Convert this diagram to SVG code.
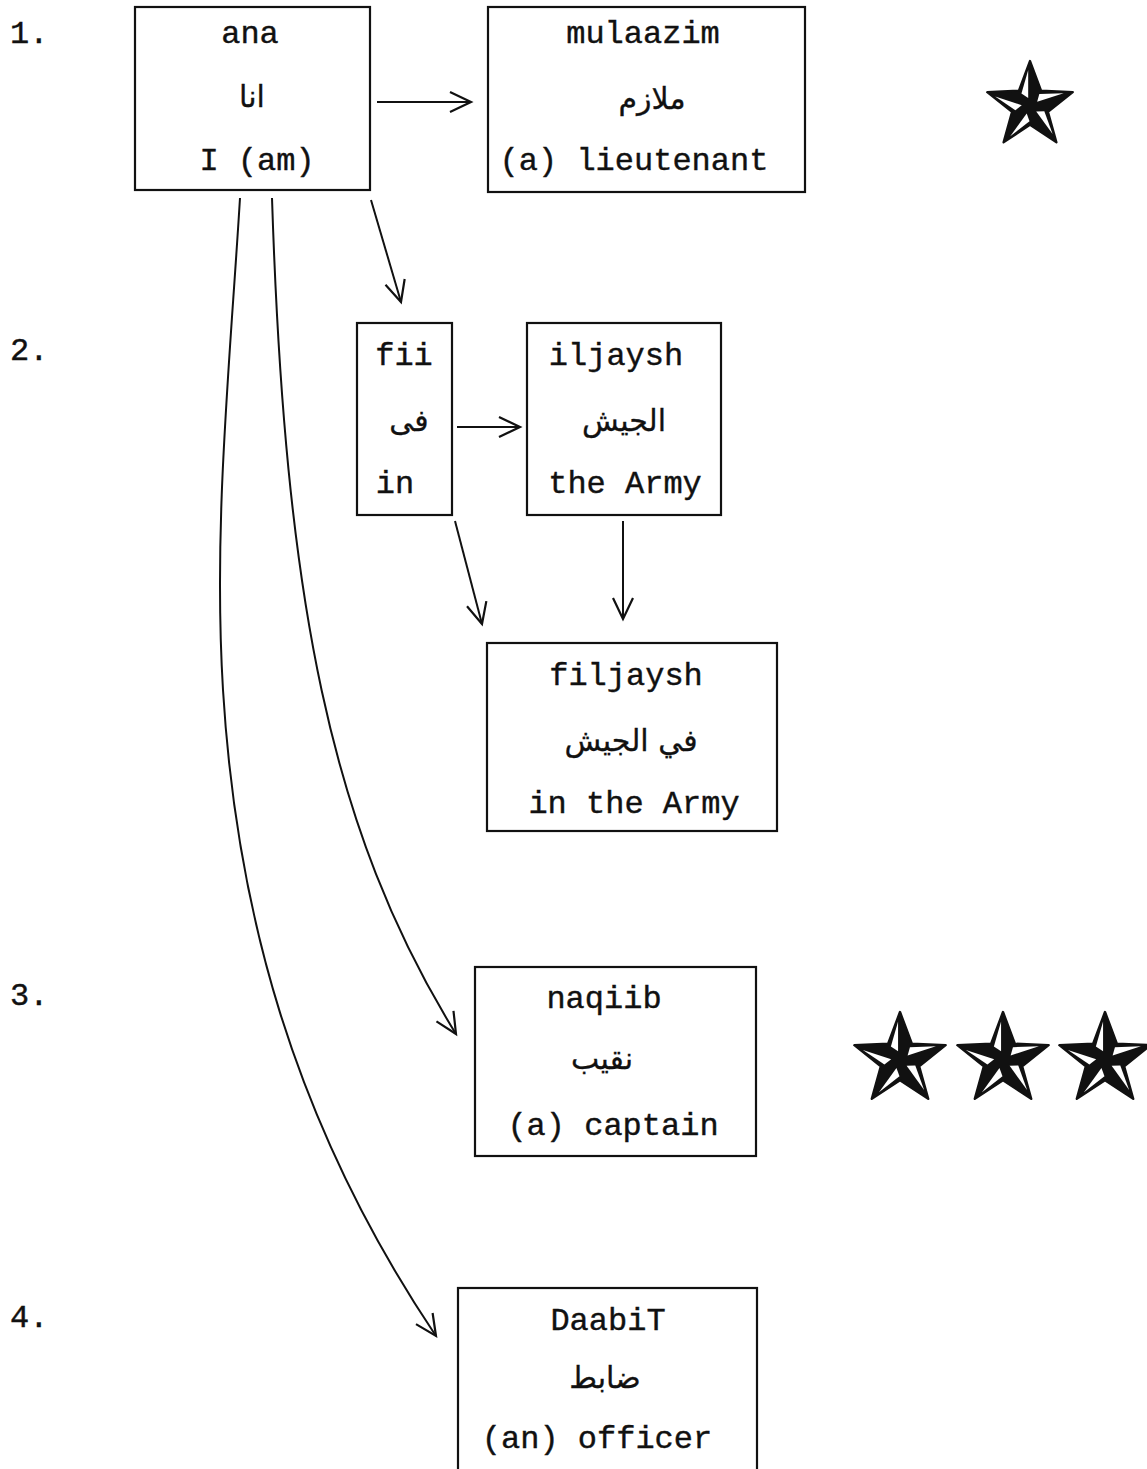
<svg xmlns="http://www.w3.org/2000/svg" xmlns:xlink="http://www.w3.org/1999/xlink" width="1147" height="1469" viewBox="0 0 1147 1469">
  <style>
    .box { fill: #fff; stroke: #111; stroke-width: 2.2; }
    .lat { font-family: "Liberation Mono", "Courier New", monospace; font-size: 32px; fill: #111; stroke: #111; stroke-width: 0.4; text-anchor: middle; }
    .num { font-family: "Liberation Mono", "Courier New", monospace; font-size: 32px; fill: #111; stroke: #111; stroke-width: 0.4; }
    .ar { font-family: "DejaVu Sans", "Noto Sans", sans-serif; font-size: 30px; fill: #111; stroke: #111; stroke-width: 0.3; text-anchor: middle; }
    .link { fill: none; stroke: #111; stroke-width: 2; marker-end: url(#head); }
  </style>
  <defs>
    <!-- open V arrowhead -->
    <marker id="head" markerUnits="userSpaceOnUse" markerWidth="28" markerHeight="26" refX="23" refY="13" orient="auto">
      <path d="M2,3 L23,13 L2,23" fill="none" stroke="#111" stroke-width="2.2" stroke-linejoin="miter"/>
    </marker>
    <!-- bevelled insignia star, radius 50, centred on origin -->
    <polygon id="facet" points="-2,-40 -2,-9 -9.5,-14" fill="#fff"/>
    <g id="star">
      <polygon points="0,-50 12.34,-16.99 47.55,-15.45 19.97,6.49 29.39,40.45 0,21 -29.39,40.45 -19.97,6.49 -47.55,-15.45 -12.34,-16.99" fill="#111" stroke="#111" stroke-width="2.5" stroke-linejoin="round"/>
      <use xlink:href="#facet"/>
      <use xlink:href="#facet" transform="rotate(72)"/>
      <use xlink:href="#facet" transform="rotate(144)"/>
      <use xlink:href="#facet" transform="rotate(216)"/>
      <use xlink:href="#facet" transform="rotate(288)"/>
    </g>
  </defs>

  <rect width="1147" height="1469" fill="#fff"/>

  <!-- row numbers -->
  <g id="row-numbers">
    <text class="num" x="10" y="43">1.</text>
    <text class="num" x="10" y="360">2.</text>
    <text class="num" x="10" y="1005">3.</text>
    <text class="num" x="10" y="1327">4.</text>
  </g>

  <!-- rank insignia -->
  <g id="stars-lieutenant">
    <use xlink:href="#star" transform="translate(1030,106) scale(0.9)"/>
  </g>
  <g id="stars-captain">
    <use xlink:href="#star" transform="translate(900,1060) scale(0.96)"/>
    <use xlink:href="#star" transform="translate(1003,1060) scale(0.96)"/>
    <use xlink:href="#star" transform="translate(1105,1060) scale(0.96)"/>
  </g>

  <g id="connectors">
    <path class="link" d="M377,102 L471,102"/>
    <path class="link" d="M371,200 L401,302"/>
    <path class="link" d="M457,427 L520,427"/>
    <path class="link" d="M455,521 L482,624"/>
    <path class="link" d="M623,521 L623,619"/>
    <path class="link" d="M272,198 C285,600 330,830 456,1034"/>
    <path class="link" d="M240,198 C230,362 213,526 223,690 C236,905 291,1120 436,1336"/>
  </g>

  <g id="node-ana">
    <rect class="box" x="135" y="7" width="235" height="183"/>
    <text class="lat" x="250" y="43">ana</text>
    <text class="ar" x="252" y="107">انا</text>
    <text class="lat" x="257" y="170">I (am)</text>
  </g>

  <g id="node-mulaazim">
    <rect class="box" x="488" y="7" width="317" height="185"/>
    <text class="lat" x="643" y="43">mulaazim</text>
    <text class="ar" x="652" y="109">ملازم</text>
    <text class="lat" x="634" y="170">(a) lieutenant</text>
  </g>

  <g id="node-fii">
    <rect class="box" x="357" y="323" width="95" height="192"/>
    <text class="lat" x="404" y="365">fii</text>
    <text class="ar" x="409" y="431">فى</text>
    <text class="lat" x="395" y="493">in</text>
  </g>

  <g id="node-iljaysh">
    <rect class="box" x="527" y="323" width="194" height="192"/>
    <text class="lat" x="616" y="365">iljaysh</text>
    <text class="ar" x="624" y="431">الجيش</text>
    <text class="lat" x="625" y="493">the Army</text>
  </g>

  <g id="node-filjaysh">
    <rect class="box" x="487" y="643" width="290" height="188"/>
    <text class="lat" x="626" y="685">filjaysh</text>
    <text class="ar" x="631" y="751">في الجيش</text>
    <text class="lat" x="634" y="813">in the Army</text>
  </g>

  <g id="node-naqiib">
    <rect class="box" x="475" y="967" width="281" height="189"/>
    <text class="lat" x="604" y="1008">naqiib</text>
    <text class="ar" x="602" y="1069">نقيب</text>
    <text class="lat" x="613" y="1135">(a) captain</text>
  </g>

  <g id="node-daabit">
    <rect class="box" x="458" y="1288" width="299" height="200"/>
    <text class="lat" x="608" y="1330">DaabiT</text>
    <text class="ar" x="605" y="1388">ضابط</text>
    <text class="lat" x="597" y="1448">(an) officer</text>
  </g>
</svg>
